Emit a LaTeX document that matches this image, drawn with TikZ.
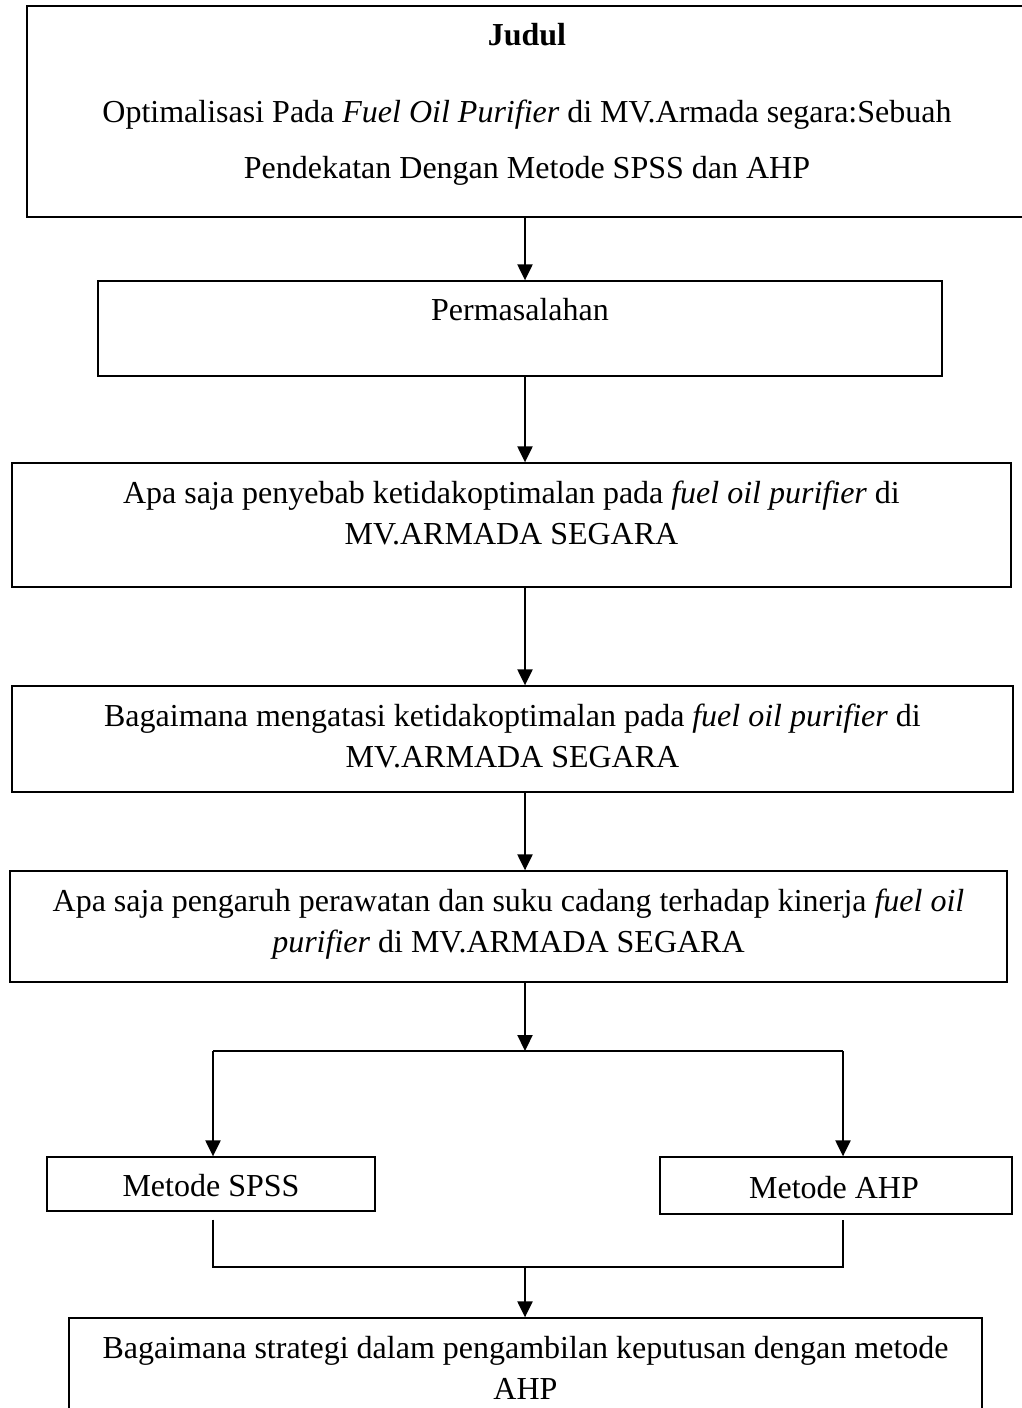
\documentclass[tikz,border=0pt]{standalone}
\usepackage{fontspec}
\setmainfont{Liberation Serif}
\usetikzlibrary{arrows.meta}
\usetikzlibrary{calc}
\tikzset{kotak/.style={draw,rectangle,line width=1.3pt,inner sep=0pt}}
\tikzset{teks/.style={anchor=north,inner sep=0pt,align=center,font=\fontsize{32}{41}\selectfont}}
\tikzset{panah/.style={-{Triangle[width=15pt,length=16pt]},line width=2.2pt}}
\tikzset{garis/.style={line width=1.3pt}}

\begin{document}
\begin{tikzpicture}[x=1pt,y=-1pt]
	\useasboundingbox (0,0) rectangle (1021,1408);
	\fill[white] (0,0) rectangle (1021,1408);
	\coordinate (sumbu) at (525,0);

	% Kotak-kotak
	\node[kotak,minimum width=1018pt,minimum height=211pt] (judul) at (536,111.5) {};
	\node[kotak,minimum width=844pt,minimum height=95pt] (masalah) at (520,328.5) {};
	\node[kotak,minimum width=999pt,minimum height=124pt] (sebab) at (511.5,525) {};
	\node[kotak,minimum width=1001pt,minimum height=106pt] (atasi) at (512.5,739) {};
	\node[kotak,minimum width=997pt,minimum height=111pt] (pengaruh) at (508.5,926.5) {};
	\node[kotak,minimum width=328pt,minimum height=54pt] (spss) at (211,1184) {};
	\node[kotak,minimum width=352pt,minimum height=57pt] (ahp) at (836,1185.5) {};
	\node[kotak,minimum width=913pt,minimum height=102pt] (strategi) at (525.5,1369) {};

	% Teks di dalam kotak
	\node[teks] (tjudul) at (527,23) {\textbf{Judul}\\[36pt]Optimalisasi Pada \textit{Fuel Oil Purifier} di MV.Armada segara:Sebuah\\[15.5pt]Pendekatan Dengan Metode SPSS dan AHP};
	\node[teks] (tmasalah) at (520,298.5) {Permasalahan};
	\node[teks] (tsebab) at (511.5,481) {Apa saja penyebab ketidakoptimalan pada \textit{fuel oil purifier} di\\MV.ARMADA SEGARA};
	\node[teks] (tatasi) at (512.5,704) {Bagaimana mengatasi ketidakoptimalan pada \textit{fuel oil purifier} di\\MV.ARMADA SEGARA};
	\node[teks] (tpengaruh) at (508.5,889) {Apa saja pengaruh perawatan dan suku cadang terhadap kinerja \textit{fuel oil}\\\textit{purifier} di MV.ARMADA SEGARA};
	\node[teks] (tspss) at (211,1174.5) {Metode SPSS};
	\node[teks] (tahp) at (834,1176) {Metode AHP};
	\node[teks] (tstrategi) at (525.5,1336.3) {Bagaimana strategi dalam pengambilan keputusan dengan metode\\AHP};

	% Panah utama
	\draw[panah] (judul.south -| sumbu) -- (masalah.north -| sumbu);
	\draw[panah] (masalah.south -| sumbu) -- (sebab.north -| sumbu);
	\draw[panah] (sebab.south -| sumbu) -- (atasi.north -| sumbu);
	\draw[panah] (atasi.south -| sumbu) -- (pengaruh.north -| sumbu);

	% Percabangan ke dua metode
	\coordinate (cabang) at (525,1051);
	\coordinate (kiri) at (213,1051);
	\coordinate (kanan) at (843,1051);
	\draw[panah] (pengaruh.south -| sumbu) -- (cabang);
	\draw[garis] (kiri) -- (kanan);
	\draw[panah] (kiri) -- (kiri |- spss.north);
	\draw[panah] (kanan) -- (kanan |- ahp.north);

	% Penggabungan
	\coordinate (gabung) at (525,1267);
	\draw[garis] ($(spss.south -| kiri)+(0,8)$) |- (gabung) -| ($(ahp.south -| kanan)+(0,5)$);
	\draw[panah] (gabung) -- (strategi.north -| sumbu);
	
\end{tikzpicture}
\end{document}
